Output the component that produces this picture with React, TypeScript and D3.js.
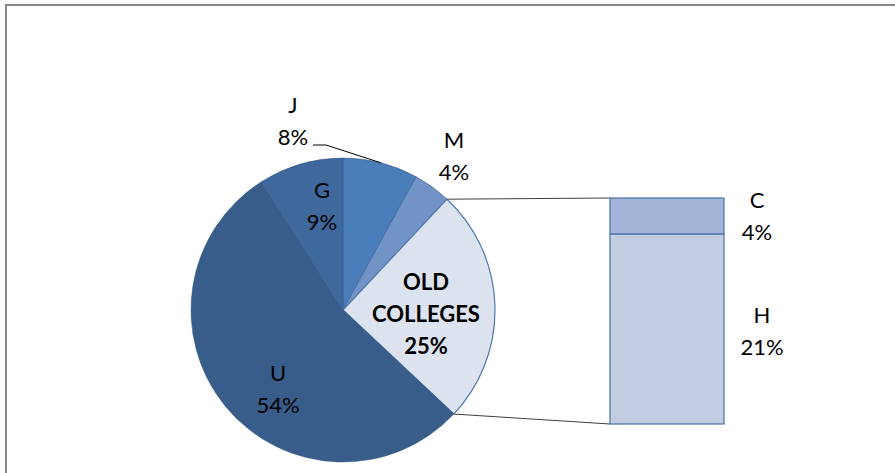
import React from "react";
import * as d3 from "d3";

const pieLabels = ["J", "M", "OLD COLLEGES", "U", "G"];
const pieValues = [8, 4, 25, 54, 9];
const barLabels = ["C", "H"];
const barValues = [4, 21];

const W = 895;
const H = 473;
const cx = 343;
const cy = 310;
const R = 152;

const pieColors = ["#4A7EBB", "#7293C5", "#DCE3EE", "#385D8A", "#3F699D"];
const barColors = ["#A2B5D7", "#C2CDE2"];

// label anchor points (centre x, first-line baseline y)
const pieLabelPos: Record<string, [number, number]> = {
  J: [293, 113],
  M: [454, 148],
  "OLD COLLEGES": [426, 290],
  U: [278, 381],
  G: [322, 198],
};
const barLabelPos: [number, number][] = [
  [757, 208],
  [762, 323],
];

export default function App() {
  const pie = d3
    .pie<number>()
    .sort(null)
    .value((d) => d)
    .startAngle(0)
    .endAngle(2 * Math.PI);
  const arcs = pie(pieValues);
  const arcGen = d3.arc<d3.PieArcDatum<number>>().innerRadius(0).outerRadius(R);

  const total = d3.sum(pieValues);
  const oldIdx = 2;
  const oldArc = arcs[oldIdx];
  const pt = (a: number, r: number) => [cx + r * Math.sin(a), cy - r * Math.cos(a)];
  const [ox1, oy1] = pt(oldArc.startAngle, R);
  const [ox2, oy2] = pt(oldArc.endAngle, R);

  const barX0 = 610;
  const barX1 = 724;
  const y = d3.scaleLinear().domain([0, d3.sum(barValues)]).range([198, 424]);
  let acc = 0;
  const bars = barValues.map((v, i) => {
    const b = { y0: y(acc), y1: y(acc + v), label: barLabels[i], value: v, i };
    acc += v;
    return b;
  });

  // J leader
  const jArc = arcs[0];
  const jMid = (jArc.startAngle + jArc.endAngle) / 2;
  const [jx, jy] = pt(jMid, R);

  const font = "Lato, 'Open Sans', sans-serif";
  const fs = 22;
  const lh = 32;

  return (
    <>
      <style>{"body{margin:0;}"}</style>
      <svg width={W} height={H} style={{ display: "block" }}>
        <rect x={0} y={0} width={W} height={H} fill="#fff" />
        <rect x={6} y={5} width={W + 20} height={H + 20} fill="none" stroke="#888" strokeWidth={2} />
        {/* connector lines */}
        <line x1={ox1} y1={oy1} x2={barX0} y2={y(0)} stroke="#404040" strokeWidth={1} />
        <line x1={ox2} y1={oy2} x2={barX0} y2={y(d3.sum(barValues))} stroke="#404040" strokeWidth={1} />
        <g>
          {arcs.map((a, i) => (
            <path
              key={i}
              d={arcGen(a) || ""}
              transform={`translate(${cx},${cy})`}
              fill={pieColors[i]}
              stroke={i === oldIdx ? "#4F78B0" : "#365A86"}
              strokeWidth={i === oldIdx ? 1.2 : 0.8}
              strokeOpacity={i === oldIdx ? 1 : 0.7}
            />
          ))}
        </g>
        {/* bar */}
        {bars.map((b) => (
          <rect
            key={b.i}
            x={barX0}
            y={b.y0}
            width={barX1 - barX0}
            height={b.y1 - b.y0}
            fill={barColors[b.i]}
            stroke="#4A72A8"
            strokeWidth={1.2}
          />
        ))}
        {/* J leader line */}
        <polyline
          points={`313,145 326,145 ${jx},${jy}`}
          fill="none"
          stroke="#000"
          strokeWidth={1}
        />
        {/* pie labels */}
        {arcs.map((a, i) => {
          const name = pieLabels[i];
          const [lx, ly] = pieLabelPos[name];
          const pct = Math.round((pieValues[i] / total) * 100) + "%";
          if (name === "OLD COLLEGES") {
            return (
              <text key={i} x={lx} y={ly} textAnchor="middle" fontFamily={font} fontSize={fs} fontWeight="bold" fill="#000">
                <tspan x={lx} y={ly}>OLD</tspan>
                <tspan x={lx} y={ly + lh}>COLLEGES</tspan>
                <tspan x={lx} y={ly + 2 * lh}>{pct}</tspan>
              </text>
            );
          }
          return (
            <text key={i} x={lx} y={ly} textAnchor="middle" fontFamily={font} fontSize={fs} fill="#000">
              <tspan x={lx} y={ly}>{name}</tspan>
              <tspan x={lx} y={ly + lh}>{pct}</tspan>
            </text>
          );
        })}
        {bars.map((b) => {
          const [lx, ly] = barLabelPos[b.i];
          return (
            <text key={b.i} x={lx} y={ly} textAnchor="middle" fontFamily={font} fontSize={fs} fill="#000">
              <tspan x={lx} y={ly}>{b.label}</tspan>
              <tspan x={lx} y={ly + lh}>{Math.round((b.value / total) * 100) + "%"}</tspan>
            </text>
          );
        })}
      </svg>
    </>
  );
}
